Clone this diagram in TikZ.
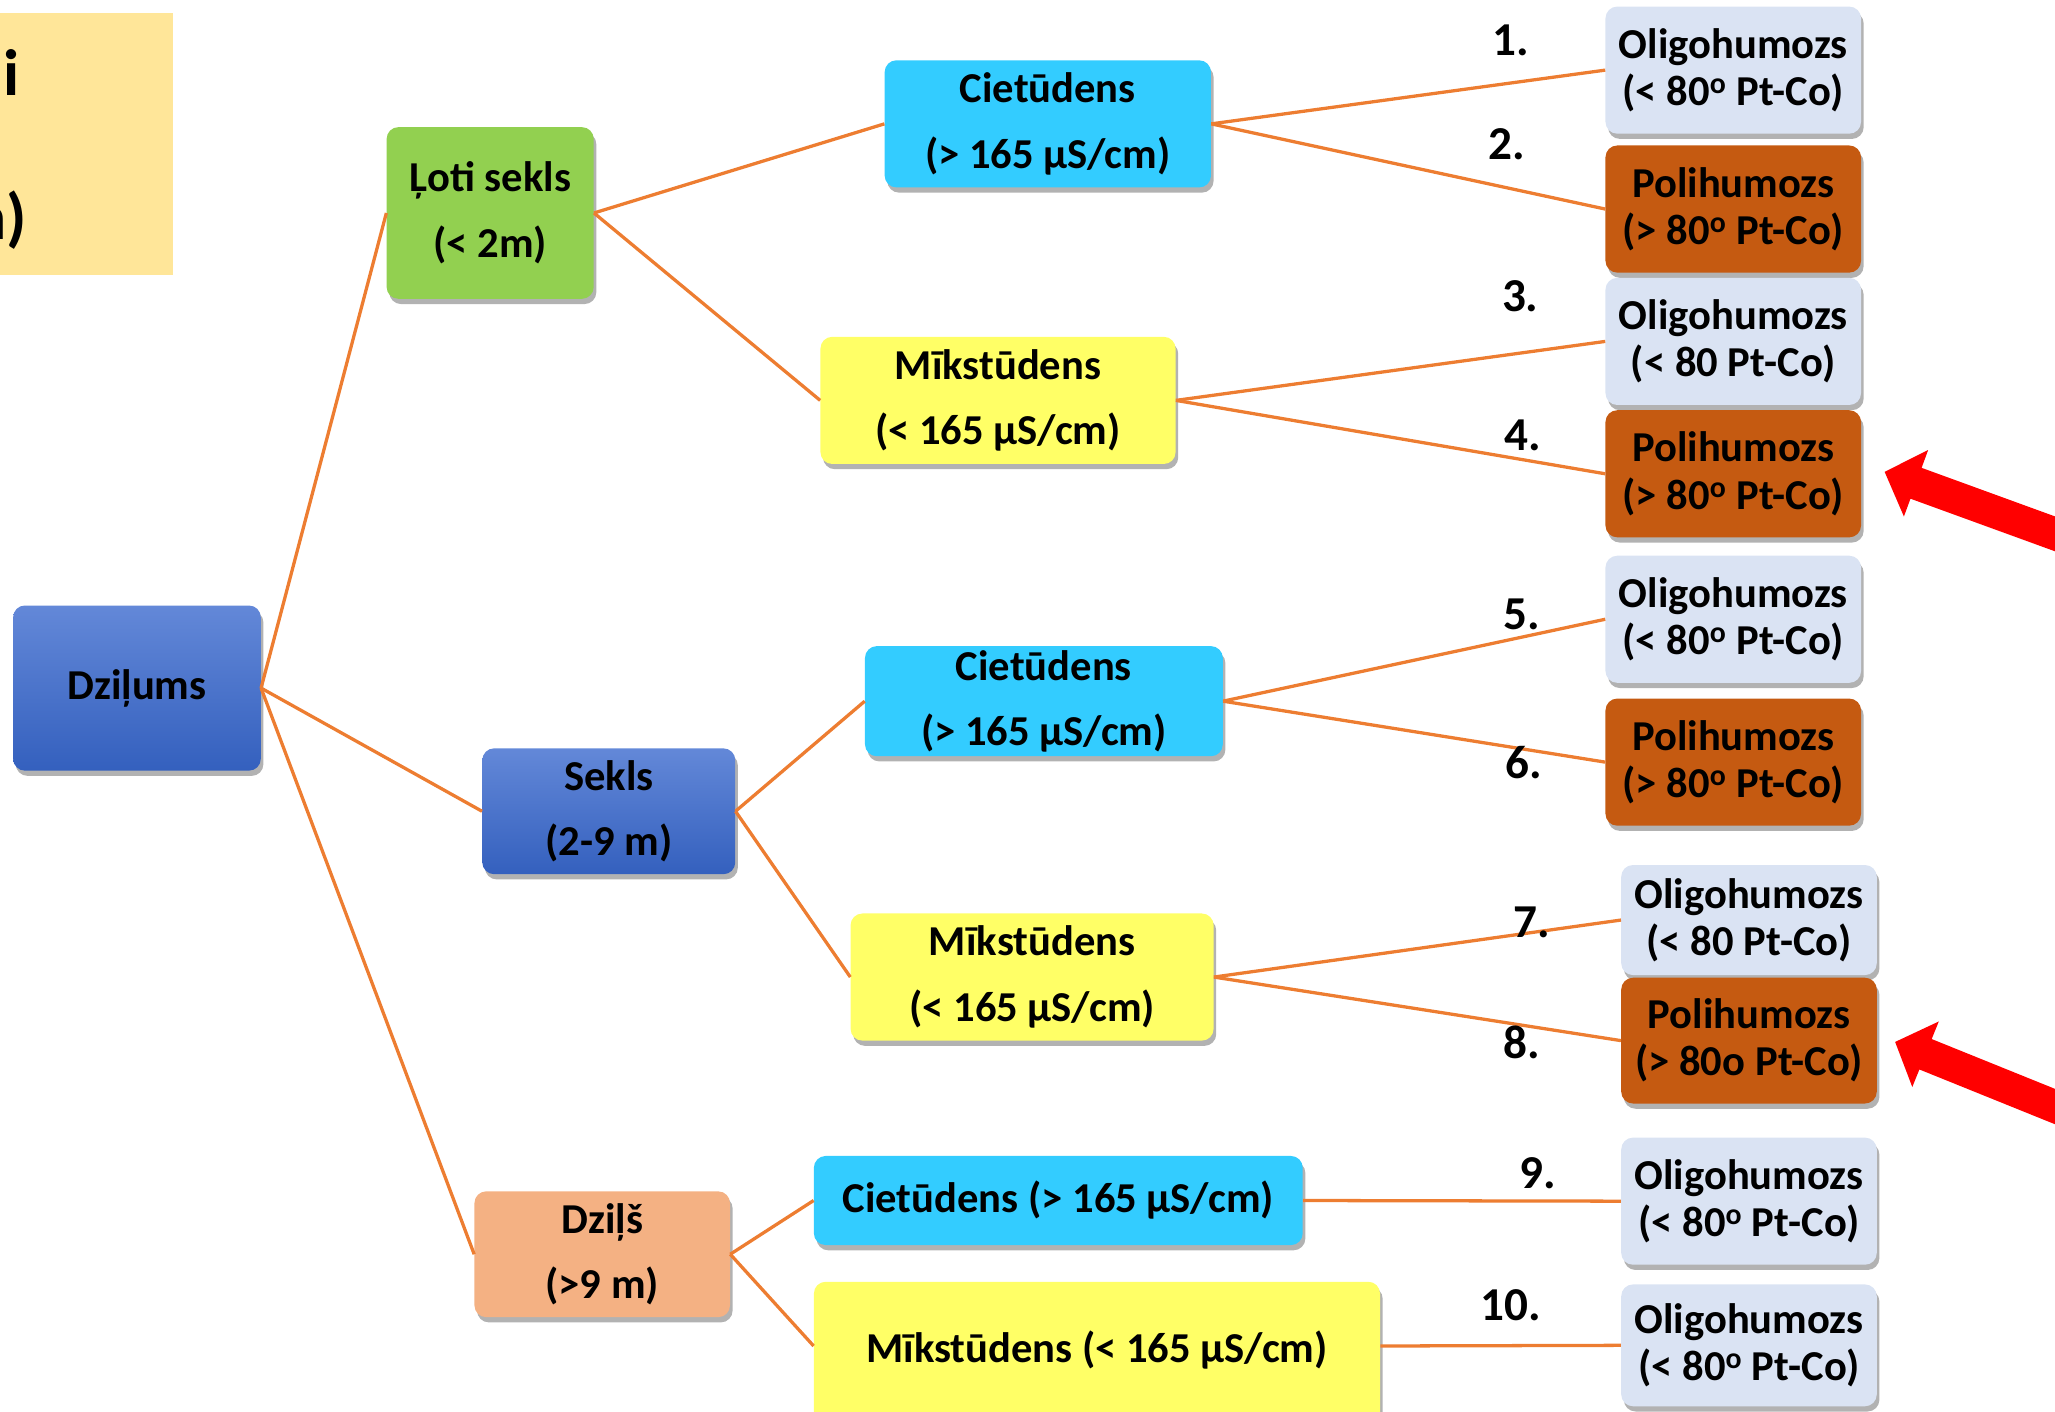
\documentclass[tikz,border=0pt]{standalone}
\usepackage{fontspec}
\setmainfont{Carlito}
\usetikzlibrary{shadows}
\definecolor{leafblue}{HTML}{DAE3F3}
\definecolor{leafbrown}{HTML}{C55A11}
\definecolor{cyanbox}{HTML}{33CCFF}
\definecolor{yelbox}{HTML}{FFFF66}
\definecolor{greenbox}{HTML}{92D050}
\definecolor{peachbox}{HTML}{F4B183}
\definecolor{bluetop}{HTML}{6388D8}
\definecolor{bluebot}{HTML}{3460BE}
\definecolor{labelyel}{HTML}{FFE699}
\definecolor{conncol}{HTML}{ED7D31}
\definecolor{arrowred}{HTML}{FF0000}
\begin{document}
\begin{tikzpicture}[x=1pt,y=-1pt,
  box/.style={rounded corners=9pt, inner sep=0pt, align=center,
    font=\bfseries\fontsize{32.5}{50}\selectfont,
    drop shadow={shadow xshift=2pt, shadow yshift=-4pt, opacity=0.3, fill=black}},
  leaf/.style={box, minimum width=195pt, font=\bfseries\fontsize{32.5}{36}\selectfont},
  bluebox/.style={box, top color=bluetop, bottom color=bluebot},
  num/.style={font=\bfseries\fontsize{36}{40}\selectfont, inner sep=0pt},
  conn/.style={draw=conncol, line width=2.5pt},
  bigtxt/.style={font=\bfseries\fontsize{50}{56}\selectfont, inner sep=0pt, anchor=east}
]
\useasboundingbox (0,0) rectangle (1568,1077);
\clip (0,0) rectangle (1568,1077);

% top-left label box (clipped at the left edge, as in the reference)
\fill[labelyel] (0,10) rectangle (132,210);
\node[bigtxt] (t1) at (15,55) {i};
\node[bigtxt] (t2) at (21,168) {m)};

% root and level 1
\node[bluebox, minimum width=189pt, minimum height=126pt] (dz) at (104.5,525) {\raisebox{-3pt}{Dziļums}};
\node[box, fill=greenbox, minimum width=158pt, minimum height=131pt] (ls) at (374,162.5) {Ļoti sekls\\(< 2m)};
\node[bluebox, minimum width=193pt, minimum height=96pt] (se) at (464.5,619) {Sekls\\(2-9 m)};
\node[box, fill=peachbox, minimum width=195pt, minimum height=96pt] (dj) at (459.5,957) {Dziļš\\(>9 m)};

% level 2
\node[box, fill=cyanbox, minimum width=249pt, minimum height=97pt] (c1) at (799.5,94.5) {Cietūdens\\(> 165 μS/cm)};
\node[box, fill=yelbox, minimum width=271pt, minimum height=97pt] (m1) at (761.5,305.5) {Mīkstūdens\\(< 165 μS/cm)};
\node[box, fill=cyanbox, minimum width=273pt, minimum height=84pt] (c2) at (796.5,535) {Cietūdens\\(> 165 μS/cm)};
\node[box, fill=yelbox, minimum width=277pt, minimum height=97pt] (m2) at (787.5,745.5) {Mīkstūdens\\(< 165 μS/cm)};
\node[box, fill=cyanbox, minimum width=373pt, minimum height=68pt] (c3) at (807.5,916) {Cietūdens (> 165 μS/cm)};
\node[box, fill=yelbox, minimum width=432pt, minimum height=112pt] (m3) at (837,1034) {\raisebox{13pt}{Mīkstūdens (< 165 μS/cm)}};

% leaves
\node[leaf, fill=leafblue, minimum height=97pt] (l1) at (1322.5,53.5) {Oligohumozs\\(< 80\textsuperscript{o} Pt-Co)};
\node[leaf, fill=leafbrown, minimum height=97pt] (l2) at (1322.5,159.5) {Polihumozs\\(> 80\textsuperscript{o} Pt-Co)};
\node[leaf, fill=leafblue, minimum height=97pt] (l3) at (1322.5,260.5) {Oligohumozs\\(< 80 Pt-Co)};
\node[leaf, fill=leafbrown, minimum height=97pt] (l4) at (1322.5,361.5) {Polihumozs\\(> 80\textsuperscript{o} Pt-Co)};
\node[leaf, fill=leafblue, minimum height=97pt] (l5) at (1322.5,472.5) {Oligohumozs\\(< 80\textsuperscript{o} Pt-Co)};
\node[leaf, fill=leafbrown, minimum height=97pt] (l6) at (1322.5,581.5) {Polihumozs\\(> 80\textsuperscript{o} Pt-Co)};
\node[leaf, fill=leafblue, minimum height=84pt] (l7) at (1334.5,702) {Oligohumozs\\(< 80 Pt-Co)};
\node[leaf, fill=leafbrown, minimum height=96pt] (l8) at (1334.5,794) {Polihumozs\\(> 80o Pt-Co)};
\node[leaf, fill=leafblue, minimum height=97pt] (l9) at (1334.5,916.5) {Oligohumozs\\(< 80\textsuperscript{o} Pt-Co)};
\node[leaf, fill=leafblue, minimum height=93pt] (l10) at (1334.5,1026.5) {Oligohumozs\\(< 80\textsuperscript{o} Pt-Co)};

% connectors
\draw[conn] (dz.east) -- (ls.west);
\draw[conn] (dz.east) -- (se.west);
\draw[conn] (dz.east) -- (dj.west);
\draw[conn] (ls.east) -- (c1.west);
\draw[conn] (ls.east) -- (m1.west);
\draw[conn] (se.east) -- (c2.west);
\draw[conn] (se.east) -- (m2.west);
\draw[conn] (dj.east) -- (c3.west);
\draw[conn] (dj.east) -- ([yshift=7pt]m3.west);
\draw[conn] (c1.east) -- (l1.west);
\draw[conn] (c1.east) -- (l2.west);
\draw[conn] (m1.east) -- (l3.west);
\draw[conn] (m1.east) -- (l4.west);
\draw[conn] (c2.east) -- (l5.west);
\draw[conn] (c2.east) -- (l6.west);
\draw[conn] (m2.east) -- (l7.west);
\draw[conn] (m2.east) -- (l8.west);
\draw[conn] (c3.east) -- (l9.west);
\draw[conn] ([yshift=7pt]m3.east) -- (l10.west);

% numbers
\node[num] (n1) at (1153,31) {1.};
\node[num] (n2) at (1150,110) {2.};
\node[num] (n3) at (1160,226) {3.};
\node[num] (n4) at (1162,332) {4.};
\node[num] (n5) at (1161,469) {5.};
\node[num] (n6) at (1163,582) {6.};
\node[num] (n7) at (1169,704) {7.};
\node[num] (n8) at (1161,795) {8.};
\node[num] (n9) at (1173,895) {9.};
\node[num] (n10) at (1153,996) {10.};

% red arrows
\fill[arrowred] (1438,360) -- (1471.2,343.35) -- (1466.2,356.97) -- (1654.1,425.4)
  -- (1645.6,448.9) -- (1457.7,380.5) -- (1452.7,394.1) -- cycle;
\fill[arrowred] (1446,795) -- (1479.3,779.4) -- (1473.9,792.8) -- (1659.3,867.7)
  -- (1649.9,890.9) -- (1464.5,816.0) -- (1459.1,829.4) -- cycle;
\end{tikzpicture}
\end{document}
